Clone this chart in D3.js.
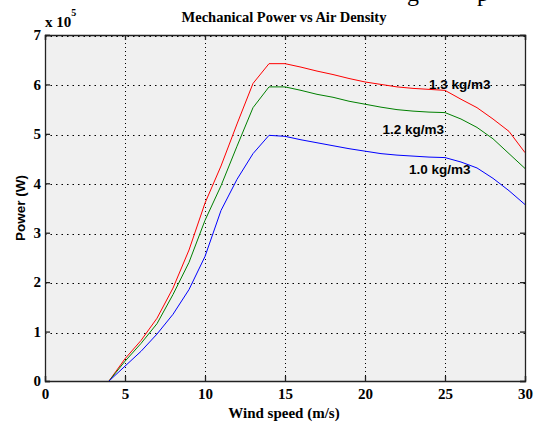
<!doctype html>
<html>
<head>
<meta charset="utf-8">
<title>Mechanical Power vs Air Density</title>
<script src="https://cdn.jsdelivr.net/npm/d3@7"></script>
<style>
  html, body { margin: 0; padding: 0; background: #fff; }
  svg { display: block; }
</style>
</head>
<body>
<svg id="chart"></svg>
<script>
// wind speed (m/s)
const speeds = [4, 5, 6, 7, 8, 9, 10, 11, 12, 13, 14, 15, 16, 17, 18, 19, 20, 21, 22, 23, 24, 25, 26, 27, 28, 29, 30];
// power in units of 1e5 W
const power13 = [0, 0.45, 0.82, 1.27, 1.88, 2.65, 3.6, 4.35, 5.2, 6.02, 6.42, 6.42, 6.35, 6.27, 6.2, 6.12, 6.05, 6.0, 5.95, 5.92, 5.9, 5.88, 5.7, 5.53, 5.3, 5.05, 4.62];
const power12 = [0, 0.4, 0.76, 1.16, 1.75, 2.4, 3.25, 3.95, 4.75, 5.53, 5.95, 5.95, 5.88, 5.8, 5.74, 5.66, 5.6, 5.54, 5.49, 5.46, 5.44, 5.43, 5.3, 5.13, 4.9, 4.6, 4.3];
const power10 = [0, 0.3, 0.6, 0.95, 1.35, 1.85, 2.52, 3.45, 4.08, 4.6, 4.97, 4.95, 4.88, 4.82, 4.76, 4.7, 4.65, 4.6, 4.57, 4.55, 4.53, 4.52, 4.43, 4.31, 4.1, 3.85, 3.57];
const seriesNames = ["1.3 kg/m3", "1.2 kg/m3", "1.0 kg/m3"];
const seriesColors = ["#ff0000", "#008000", "#0000ff"];
const xTicks = [0, 5, 10, 15, 20, 25, 30];
const yTicks = [0, 1, 2, 3, 4, 5, 6, 7];

const width = 536, height = 425;
const plotL = 45, plotR = 525, plotT = 35, plotB = 381;

const svg = d3.select("#chart").attr("width", width).attr("height", height);

const x = d3.scaleLinear().domain([0, 30]).range([plotL, plotR]);
const y = d3.scaleLinear().domain([0, 7]).range([plotB, plotT]);

// cropped text from the page above the figure
svg.append("text")
    .attr("font-family", "Liberation Serif, serif")
    .attr("font-size", 24)
    .attr("y", 1)
    .selectAll("tspan")
    .data([["g", 407], ["p", 477]])
    .join("tspan")
    .attr("x", d => d[1])
    .text(d => d[0]);

// plot background
svg.append("rect")
    .attr("x", plotL).attr("y", plotT)
    .attr("width", plotR - plotL).attr("height", plotB - plotT)
    .attr("fill", "#f0f0f0");

// grid
const grid = svg.append("g").attr("stroke", "#000").attr("stroke-width", 1);
grid.selectAll("line.gx")
    .data(xTicks.slice(1, -1))
    .join("line")
    .attr("x1", d => Math.round(x(d)) + 0.5).attr("x2", d => Math.round(x(d)) + 0.5)
    .attr("y1", plotT).attr("y2", plotB)
    .attr("stroke-dasharray", "1,3");
grid.selectAll("line.gy")
    .data(yTicks.slice(1))
    .join("line")
    .attr("x1", plotL).attr("x2", plotR)
    .attr("y1", d => Math.round(y(d)) + 1.5).attr("y2", d => Math.round(y(d)) + 1.5)
    .attr("stroke-dasharray", "1.5,4");

// series lines
const series = [power13, power12, power10];
const line = d3.line()
    .x((d, i) => x(speeds[i]))
    .y(d => y(d));

svg.append("g")
    .attr("fill", "none")
    .attr("stroke-width", 1)
    .selectAll("path")
    .data(series)
    .join("path")
    .attr("stroke", (d, i) => seriesColors[i])
    .attr("d", line);

// axes box + inward ticks (matlab style)
const xAxis = svg.append("g")
    .attr("transform", `translate(0,${plotB})`)
    .call(d3.axisBottom(x).tickValues(xTicks).tickSize(-5).tickPadding(10).tickFormat(d3.format("d")));
const yAxis = svg.append("g")
    .attr("transform", `translate(${plotL},0)`)
    .call(d3.axisLeft(y).tickValues(yTicks).tickSize(-5).tickPadding(4).tickFormat(d3.format("d")));
svg.append("g")
    .attr("transform", `translate(0,${plotT})`)
    .call(d3.axisTop(x).tickValues(xTicks).tickSize(-5).tickFormat(""));
svg.append("g")
    .attr("transform", `translate(${plotR},0)`)
    .call(d3.axisRight(y).tickValues(yTicks).tickSize(-5).tickFormat(""));

svg.selectAll(".domain").attr("stroke", "#222").attr("stroke-width", 1.3);
svg.selectAll(".tick line").attr("stroke", "#222").attr("stroke-width", 1.3);
svg.selectAll(".tick text")
    .attr("font-family", "Liberation Serif, serif")
    .attr("font-weight", "bold")
    .attr("font-size", 15)
    .attr("fill", "#000");
xAxis.selectAll(".tick text").attr("dy", "0.55em");

// exponent marker
const expo = svg.append("text")
    .attr("x", plotL)
    .attr("y", 27)
    .attr("font-family", "Liberation Serif, serif")
    .attr("font-weight", "bold")
    .attr("font-size", 15);
expo.append("tspan").text("x 10");
expo.append("tspan").attr("dy", -11).attr("font-size", 10).text("5");

// title
svg.append("text")
    .attr("x", 284).attr("y", 22)
    .attr("text-anchor", "middle")
    .attr("font-family", "Liberation Serif, serif")
    .attr("font-weight", "bold")
    .attr("font-size", 14.5)
    .text("Mechanical Power vs Air Density");

// axis labels
svg.append("text")
    .attr("x", 284).attr("y", 418)
    .attr("text-anchor", "middle")
    .attr("font-family", "Liberation Serif, serif")
    .attr("font-weight", "bold")
    .attr("font-size", 15)
    .text("Wind speed (m/s)");

svg.append("text")
    .attr("transform", "translate(25,208) rotate(-90)")
    .attr("text-anchor", "middle")
    .attr("font-family", "Liberation Sans, Arial, sans-serif")
    .attr("font-weight", "bold")
    .attr("font-size", 13.5)
    .text("Power (W)");

// series labels placed next to their curves
const labelAt = [[24, 5.91], [21.1, 5.0], [22.75, 4.19]];
svg.append("g")
    .attr("font-family", "Liberation Sans, Arial, sans-serif")
    .attr("font-weight", "bold")
    .attr("font-size", 13.5)
    .selectAll("text")
    .data(seriesNames)
    .join("text")
    .attr("x", (d, i) => x(labelAt[i][0]))
    .attr("y", (d, i) => y(labelAt[i][1]))
    .text(d => d);
</script>
</body>
</html>
